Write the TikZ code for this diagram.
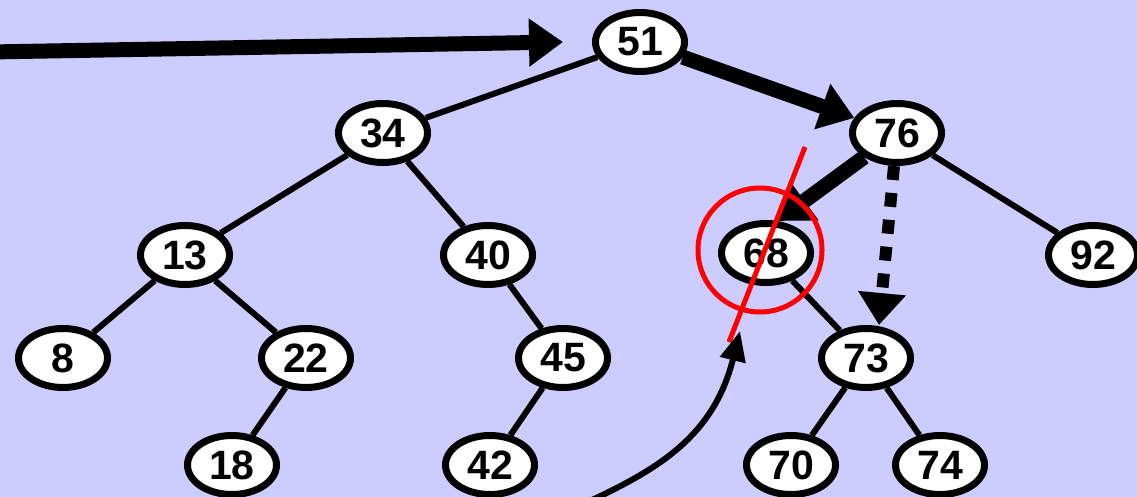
\documentclass[tikz,border=0pt]{standalone}
\usepackage{fontspec}
\setmainfont{Liberation Sans}
\usetikzlibrary{shapes.geometric,arrows.meta,calc,backgrounds}
\definecolor{bg}{RGB}{204,204,255}
\begin{document}
\begin{tikzpicture}[x=1pt,y=-1pt,
  bst/.style={ellipse,draw=black,line width=7pt,fill=white,minimum width=89pt,minimum height=59pt,inner sep=0pt,font=\fontsize{41}{41}\selectfont\bfseries},
  edge/.style={line width=6pt},
  bigarrow/.style={line width=15pt,-{Triangle[length=34pt,width=46pt]}},
  dasharrow/.style={line width=12pt,dash pattern=on 14pt off 13pt,-{Triangle[length=32pt,width=46pt]}},
  thinarrow/.style={line width=6pt,-{Triangle[length=30pt,width=25pt]}},
  cross/.style={draw=red,line width=5pt},
]
\useasboundingbox (0,0) rectangle (1137,497);
\node[bst] (n51) at (640,42) {51};
\node[bst] (n34) at (383,133) {34};
\node[bst] (n76) at (897,133) {76};
\node[bst] (n13) at (185,255) {13};
\node[bst] (n40) at (488,255) {40};
\node[bst] (n68) at (766,253) {68};
\node[bst] (n92) at (1093,255) {92};
\node[bst] (n8) at (63,358) {8};
\node[bst] (n22) at (306,358) {22};
\node[bst] (n45) at (563,358) {45};
\node[bst] (n73) at (866,358) {73};
\node[bst] (n18) at (232,465) {18};
\node[bst] (n42) at (490,465) {42};
\node[bst] (n70) at (791,465) {70};
\node[bst] (n74) at (940,465) {74};
\coordinate (src) at (-10,52);
\coordinate (cs) at (592,500);
\coordinate (ct) at (740,331);
\begin{scope}[on background layer]
\fill[bg] (0,0) rectangle (1137,497);
\draw[edge] (n51) -- (n34);
\draw[edge] (n34) -- (n13);
\draw[edge] (n34) -- (n40);
\draw[edge] (n13) -- (n8);
\draw[edge] (n13) -- (n22);
\draw[edge] (n22) -- (n18);
\draw[edge] (n40) -- (n45);
\draw[edge] (n45) -- (n42);
\draw[edge] (n76) -- (n92);
\draw[edge] (n68) -- (n73);
\draw[edge] (n73) -- (n70);
\draw[edge] (n73) -- (n74);
\end{scope}
\draw[bigarrow] (src) -- ($(n51.west)+(-29,0)$);
\draw[bigarrow] (n51) -- (n76);
\draw[bigarrow] (n76) -- ($(n68)+(11,-32)$);
\draw[dasharrow] ($(n76.south)+(-3,0)$) -- ($(n73.north)+(13,0)$);
\draw[cross] ($(n68)+(-6,-3)$) circle (62);
\draw[cross] ($(n68)+(39,-106)$) -- ($(n68)+(-37,89)$);
\draw[thinarrow] (cs) .. controls (660,468) and (714,435) .. (ct);
\end{tikzpicture}
\end{document}
